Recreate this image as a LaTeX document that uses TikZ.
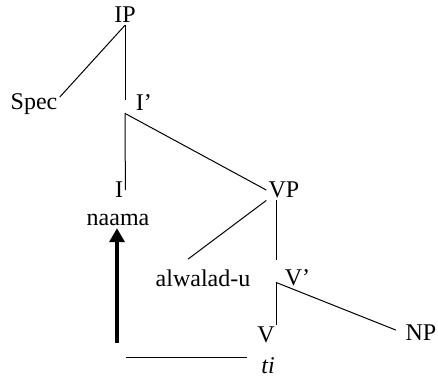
\documentclass[tikz,border=0pt]{standalone}
\usepackage{fontspec}
\setmainfont{Liberation Serif}
\usetikzlibrary{arrows.meta, positioning}
\tikzset{
	cat/.style={inner sep=1pt, font=\fontsize{12}{14}\selectfont},
	junction/.style={inner sep=0pt, minimum size=0pt, minimum height=#1},
	branch/.style={line width=0.5pt},
	move/.style={-{Triangle[length=7pt, width=7.5pt]}, line width=2pt},
}

\begin{document}
\begin{tikzpicture}[x=0.5pt, y=-0.5pt]
		\useasboundingbox (0,0) rectangle (438,377);
		\node[cat] (ip) at (125,15) {IP};
		\node[cat] (spec) at (34,104) {Spec};
		\node[junction=6.5pt] (ibar) at (125,106.5) {};
		\node[cat, right=4pt of ibar, yshift=1.75pt] (ibartxt) {I'};
		\node[cat] (infl) at (119,190) {I};
		\node[cat] (naama) at (118,220) {naama};
		\node[cat] (vp) at (284,190) {VP};
		\node[cat] (subj) at (203,278) {alwalad-u};
		\node[junction=11pt] (vbar) at (276,271) {};
		\node[cat, right=3pt of vbar, yshift=-3.5pt] (vbartxt) {V'};
		\node[cat] (verb) at (266,335) {V};
		\node[cat] (np) at (421,333) {NP};
		\node[cat] (trace) at (268,366) {\itshape ti};
		\coordinate (tail) at (117,343);
		\coordinate (base) at (126,357);
		% tree
		\draw[branch] (ip.south) -- ([yshift=-3pt]spec.north east);
		\draw[branch] (ip.south) -- (ibar.north);
		\draw[branch] (ibar.south) -- (vp.west);
		\draw[branch] (ibar.south) -- (infl.east);
		\draw[branch] (vp.south west) -- ([xshift=-7.5pt, yshift=4pt]subj.north);
		\draw[branch] (vbar.north |- vp.south) -- (vbar.north);
		\draw[branch] (vbar.south) -- (vbar.south |- verb.north);
		\draw[branch, shorten >=4pt] (vbar.south) -- (np.west);
		% movement
		\draw[branch, shorten >=6pt] (base) -- (base -| trace.west);
		\draw[move] (tail) -- (tail |- naama.south);
	\end{tikzpicture}
\end{document}
